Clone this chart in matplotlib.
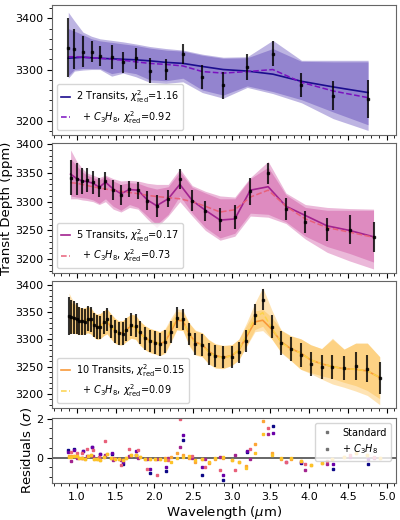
import numpy as np
import matplotlib.pyplot as plt
from matplotlib.ticker import MultipleLocator, AutoMinorLocator
from matplotlib.lines import Line2D

# ---- 2 transits ----
wl2 = [0.89, 0.97, 1.08, 1.19, 1.30, 1.45, 1.60, 1.76, 1.94, 2.15, 2.37, 2.62, 2.89, 3.20, 3.53, 3.90, 4.31, 4.76]
depth2 = [3343, 3340, 3335, 3335, 3326, 3325, 3314, 3322, 3298, 3300, 3330, 3285, 3269, 3305, 3331, 3270, 3249, 3243]
err2 = [57, 39, 30, 21, 20, 23, 20, 20, 25, 21, 20, 24, 27, 26, 25, 24, 29, 37]
model2 = [3322, 3323, 3324, 3323, 3322, 3321, 3320, 3319, 3317, 3314, 3312, 3306, 3300, 3297, 3291, 3277, 3266, 3255]
c3h8_2 = [3325, 3325, 3324, 3323, 3322, 3320, 3318, 3315, 3312, 3310, 3307, 3296, 3293, 3296, 3300, 3275, 3258, 3245]
std_hi2 = [3380, 3375, 3368, 3360, 3356, 3353, 3350, 3347, 3342, 3338, 3336, 3328, 3322, 3323, 3341, 3316, 3315, 3315]
std_lo2 = [3288, 3300, 3302, 3302, 3302, 3292, 3296, 3292, 3280, 3278, 3283, 3260, 3250, 3268, 3257, 3241, 3217, 3192]
c3h8_hi2 = [3412, 3395, 3373, 3365, 3360, 3357, 3354, 3350, 3345, 3341, 3338, 3330, 3324, 3325, 3357, 3318, 3318, 3318]
c3h8_lo2 = [3283, 3297, 3299, 3300, 3300, 3287, 3293, 3286, 3275, 3273, 3276, 3255, 3244, 3265, 3253, 3235, 3204, 3181]

# ---- 5 transits ----
wl5 = [0.92, 1.00, 1.07, 1.13, 1.21, 1.29, 1.37, 1.47, 1.57, 1.68, 1.79, 1.91, 2.03,
       2.18, 2.33, 2.49, 2.66, 2.85, 3.04, 3.24, 3.47, 3.70, 3.95, 4.23, 4.52, 4.83]
depth5 = [3342, 3339, 3336, 3337, 3334, 3325, 3336, 3320, 3312, 3322, 3320, 3302, 3292,
          3305, 3339, 3302, 3284, 3269, 3273, 3318, 3349, 3288, 3264, 3252, 3251, 3239]
err5 = [31, 28, 23, 21, 20, 17, 16, 17, 17, 14, 15, 16, 19, 15, 17, 18, 17, 20, 21, 23, 19, 19, 19, 20, 25, 26]
model5 = [3348, 3340, 3336, 3335, 3332, 3325, 3334, 3322, 3314, 3321, 3320, 3303, 3293,
          3305, 3330, 3302, 3285, 3268, 3270, 3320, 3326, 3292, 3276, 3258, 3250, 3239]
c3h8_5 = [3333, 3332, 3330, 3328, 3326, 3324, 3322, 3320, 3318, 3316, 3314, 3311, 3309,
          3307, 3305, 3300, 3292, 3282, 3286, 3308, 3320, 3292, 3270, 3255, 3247, 3238]
std_hi5 = [3375, 3362, 3352, 3346, 3342, 3338, 3344, 3336, 3330, 3333, 3332, 3326, 3322,
           3326, 3352, 3325, 3315, 3305, 3305, 3340, 3360, 3312, 3290, 3285, 3285, 3285]
std_lo5 = [3310, 3308, 3307, 3306, 3303, 3297, 3305, 3292, 3285, 3295, 3290, 3275, 3260,
           3278, 3310, 3280, 3255, 3237, 3245, 3280, 3278, 3265, 3240, 3222, 3210, 3195]
c3h8_hi5 = [3390, 3370, 3358, 3350, 3346, 3342, 3346, 3340, 3336, 3337, 3336, 3332, 3330,
            3330, 3357, 3328, 3318, 3310, 3308, 3342, 3370, 3315, 3295, 3290, 3288, 3287]
c3h8_lo5 = [3305, 3305, 3303, 3302, 3300, 3295, 3300, 3287, 3282, 3290, 3287, 3270, 3255,
            3275, 3300, 3275, 3250, 3233, 3240, 3275, 3273, 3262, 3235, 3212, 3197, 3183]

# ---- 10 transits ----
wl10 = [0.90, 0.93, 0.97, 1.00, 1.03, 1.07, 1.10, 1.14, 1.18, 1.22, 1.26, 1.30, 1.35,
        1.39, 1.44, 1.49, 1.54, 1.59, 1.64, 1.70, 1.76, 1.81, 1.88, 1.94, 2.01, 2.07,
        2.14, 2.21, 2.29, 2.37, 2.45, 2.53, 2.62, 2.70, 2.79, 2.89, 3.00, 3.09, 3.19,
        3.30, 3.40, 3.52, 3.64, 3.76, 3.89, 4.02, 4.16, 4.30, 4.45, 4.60, 4.75, 4.91]
depth10 = [3343, 3341, 3340, 3338, 3334, 3333, 3332, 3338, 3337, 3326, 3322, 3322, 3331,
           3337, 3324, 3315, 3311, 3310, 3318, 3327, 3325, 3313, 3302, 3297, 3294, 3291,
           3296, 3314, 3340, 3337, 3310, 3291, 3289, 3273, 3269, 3267, 3268, 3276, 3297,
           3345, 3373, 3323, 3294, 3282, 3271, 3254, 3249, 3249, 3247, 3251, 3246, 3229]
err10 = [35, 32, 30, 28, 26, 25, 24, 23, 23, 22, 22, 21, 21, 21, 21, 21, 21, 21, 21, 21,
         21, 21, 21, 21, 21, 21, 21, 20, 19, 19, 20, 20, 20, 20, 20, 20, 20, 20, 20, 19,
         20, 21, 22, 22, 22, 22, 22, 22, 22, 25, 25, 29]
model10 = [3340, 3339, 3338, 3336, 3334, 3333, 3334, 3336, 3334, 3327, 3323, 3324, 3330,
           3333, 3324, 3316, 3312, 3312, 3318, 3324, 3322, 3312, 3303, 3298, 3295, 3292,
           3296, 3313, 3335, 3334, 3310, 3295, 3290, 3278, 3270, 3267, 3270, 3280, 3305,
           3332, 3335, 3318, 3295, 3283, 3275, 3262, 3255, 3250, 3246, 3245, 3242, 3230]
c3h8_10 = [3341, 3340, 3338, 3336, 3334, 3333, 3334, 3336, 3334, 3327, 3323, 3324, 3330,
           3333, 3324, 3316, 3312, 3312, 3318, 3324, 3322, 3312, 3303, 3298, 3295, 3292,
           3298, 3318, 3340, 3336, 3308, 3293, 3290, 3277, 3269, 3266, 3270, 3280, 3308,
           3340, 3349, 3320, 3294, 3282, 3275, 3262, 3255, 3250, 3246, 3245, 3242, 3230]
# band extent above / below each model curve
std_up10 = [30, 28, 27, 26, 25, 24, 24, 24, 24, 23, 23, 23, 23, 23, 23, 23, 22, 22, 22, 22,
            22, 22, 22, 22, 22, 22, 22, 20, 16, 16, 20, 22, 22, 22, 22, 22, 20, 20, 20, 20,
            20, 22, 22, 24, 26, 28, 28, 52, 36, 48, 51, 38]
std_dn10 = [30, 28, 27, 26, 25, 24, 24, 24, 24, 23, 23, 23, 23, 23, 23, 23, 22, 22, 22, 22,
            22, 22, 22, 22, 22, 22, 22, 20, 18, 18, 20, 22, 22, 22, 22, 20, 18, 18, 18, 18,
            19, 18, 19, 21, 30, 23, 22, 22, 25, 30, 36, 39]
c3h8_up10 = [44, 36, 30, 27, 25, 24, 24, 24, 24, 23, 23, 23, 23, 23, 23, 23, 22, 22, 22, 22,
             22, 22, 22, 22, 22, 22, 22, 20, 16, 18, 22, 22, 22, 22, 22, 22, 20, 20, 22, 27,
             46, 33, 22, 24, 26, 28, 28, 50, 36, 48, 51, 38]
c3h8_dn10 = [30, 28, 27, 26, 25, 24, 24, 24, 24, 23, 23, 23, 23, 23, 23, 23, 22, 22, 22, 22,
             22, 22, 22, 22, 22, 22, 22, 22, 22, 20, 20, 22, 22, 22, 22, 20, 18, 18, 20, 22,
             25, 20, 19, 21, 30, 25, 28, 32, 34, 40, 45, 50]

labels = ['2 Transits, $\\chi^2_{\\mathrm{red}}$=1.16', '5 Transits, $\\chi^2_{\\mathrm{red}}$=0.17',
          '10 Transits, $\\chi^2_{\\mathrm{red}}$=0.15']
c3h8_labels = ['  + $C_3H_8$, $\\chi^2_{\\mathrm{red}}$=0.92', '  + $C_3H_8$, $\\chi^2_{\\mathrm{red}}$=0.73',
               '  + $C_3H_8$, $\\chi^2_{\\mathrm{red}}$=0.09']

fill_cols = ['#4a30b0', '#c83c96', '#fdb42f']
line_cols = ['#1b0c8e', '#a2238f', '#f89a3a']
dash_cols = ['#7a10c0', '#e8607a', '#fcd24a']
res_std_cols = ['#0d0887', '#a2238f', '#fca636']
res_c3_cols = ['#6a00a8', '#e8607a', '#fdc328']

tr10_std_hi = np.array(model10) + np.array(std_up10)
tr10_std_lo = np.array(model10) - np.array(std_dn10)
tr10_c3_hi = np.array(c3h8_10) + np.array(c3h8_up10)
tr10_c3_lo = np.array(c3h8_10) - np.array(c3h8_dn10)

sets = [
    (wl2, depth2, err2, model2, c3h8_2, std_lo2, std_hi2, c3h8_lo2, c3h8_hi2),
    (wl5, depth5, err5, model5, c3h8_5, std_lo5, std_hi5, c3h8_lo5, c3h8_hi5),
    (wl10, depth10, err10, model10, c3h8_10, tr10_std_lo, tr10_std_hi, tr10_c3_lo, tr10_c3_hi),
]

fig = plt.figure(figsize=(4, 5.2), dpi=100)
L, W = 0.13, 0.86
boxes = [(0.7413, 0.249), (0.475, 0.25), (0.2154, 0.2442)]
ylims = [(3173, 3426), (3176, 3402), (3174, 3407)]
axes = [fig.add_axes([L, b, W, h]) for b, h in boxes]
axr = fig.add_axes([L, 0.0721, W, 0.124])

for i, ax in enumerate(axes):
    wl, d, e, m, c, slo, shi, clo, chi = sets[i]
    ax.fill_between(wl, slo, shi, color=fill_cols[i], alpha=0.36, lw=0)
    ax.fill_between(wl, clo, chi, color=fill_cols[i], alpha=0.36, lw=0)
    ax.plot(wl, m, '-', color=line_cols[i], lw=1.2, label=labels[i])
    ax.plot(wl, c, '--', color=dash_cols[i], lw=1.1, label=c3h8_labels[i])
    ax.errorbar(wl, d, yerr=e, fmt='s', ms=1.8, color='k', ecolor='k',
                elinewidth=1.5, alpha=0.8, capsize=0)
    ax.set_xlim(0.68, 5.12)
    ax.set_ylim(*ylims[i])
    ax.xaxis.set_major_locator(MultipleLocator(0.5))
    ax.xaxis.set_minor_locator(MultipleLocator(0.1))
    ax.yaxis.set_minor_locator(AutoMinorLocator())
    ax.tick_params(labelbottom=False, labelsize=8)
    ax.tick_params(axis='y', pad=2.5)
    ax.legend(loc='lower left', fontsize=7, handlelength=1.0, handletextpad=0.6,
              borderpad=0.4, labelspacing=0.4, framealpha=0.8)
    for s in ax.spines.values():
        s.set_color('0.4')

axes[0].yaxis.set_major_locator(MultipleLocator(100))
axes[1].set_ylabel('Transit Depth (ppm)', fontsize=9.5)
axes[1].yaxis.set_label_coords(-0.112, 0.5)

# residuals
for i in range(3):
    wl, d, e, m, c = [np.array(v, dtype=float) for v in sets[i][:5]]
    axr.plot(wl, (d - m) / e, 's', ms=1.6, color=res_std_cols[i], ls='none')
    axr.plot(wl, (d - c) / e, 's', ms=1.6, color=res_c3_cols[i], ls='none')
axr.axhline(0, color='0.3', lw=1.2, zorder=0)
axr.set_xlim(0.68, 5.12)
axr.set_ylim(-1.27, 2.03)
axr.xaxis.set_major_locator(MultipleLocator(0.5))
axr.xaxis.set_minor_locator(MultipleLocator(0.1))
axr.yaxis.set_major_locator(MultipleLocator(2))
axr.yaxis.set_minor_locator(AutoMinorLocator())
axr.tick_params(labelsize=8)
axr.tick_params(axis='y', pad=2.5)
axr.set_xlabel('Wavelength ($\\mu$m)', fontsize=9.5, labelpad=1)
axr.set_ylabel('Residuals ($\\sigma$)', fontsize=9.5, labelpad=2)
for s in axr.spines.values():
    s.set_color('0.4')
handles = [Line2D([], [], marker='s', ms=1.6, color='0.45', ls='none'),
           Line2D([], [], marker='s', ms=1.6, color='0.45', ls='none')]
axr.legend(handles, ['Standard', '+ $C_3H_8$'], loc='upper right', fontsize=7,
           handlelength=1.5, borderpad=0.5, labelspacing=0.5, framealpha=0.8)

fig.savefig('out.png', dpi=100)
